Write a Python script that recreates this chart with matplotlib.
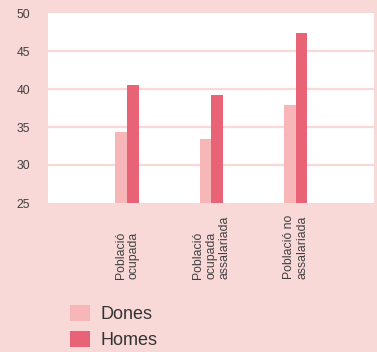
import matplotlib
matplotlib.use("Agg")
import matplotlib.pyplot as plt
import matplotlib.transforms as mtransforms
import numpy as np

categories = ["Població\nocupada", "Població\nocupada\nassalariada", "Població no\nassalariada"]
dones = [34.3, 33.4, 37.9]
homes = [40.5, 39.2, 47.4]
yticks = [25, 30, 35, 40, 45, 50]

bg = "#f9d9d8"
c_dones = "#f7b6b7"
c_homes = "#e96377"
txt = "#404040"

plt.rcParams["font.family"] = ["Liberation Sans", "DejaVu Sans"]

fig = plt.figure(figsize=(3.77, 3.52), dpi=100, facecolor=bg)
ax = fig.add_axes([48/377, 1-203/352, (374-48)/377, (203-13)/352])
ax.set_facecolor("white")

x = np.arange(len(categories))
w = 0.14
b1 = ax.bar(x - w/2, dones, width=w, color=c_dones, label="Dones", zorder=3)
b2 = ax.bar(x + w/2, homes, width=w, color=c_homes, label="Homes", zorder=3)

ax.set_ylim(25, 50)
ax.set_xlim(-0.94, 2.93)
ax.set_yticks(yticks)
ax.set_yticklabels([str(t) for t in yticks], fontsize=8.8, color=txt)
ax.tick_params(axis="y", length=0, pad=13)
ax.set_xticks([])
for s in ax.spines.values():
    s.set_visible(False)
for t in yticks[1:-1]:
    ax.axhline(t, color=bg, lw=1.6, zorder=1)

trans = mtransforms.blended_transform_factory(ax.transData, ax.transAxes)
ybot = -(279-203)/190
for xi, lab in zip(x, categories):
    ax.text(xi, ybot, lab, rotation=90, ha="center", va="bottom",
            multialignment="left", fontsize=8.8, color=txt, transform=trans,
            linespacing=1.15)

fig.legend(handles=[b1, b2], labels=["Dones", "Homes"], loc="upper left",
           bbox_to_anchor=(63/377, 1-298/352), frameon=False, fontsize=13,
           handlelength=1.1, handleheight=0.95, handletextpad=0.6,
           labelspacing=0.45, labelcolor="#333333", borderaxespad=0)

fig.savefig("out.png", dpi=100, facecolor=bg)
